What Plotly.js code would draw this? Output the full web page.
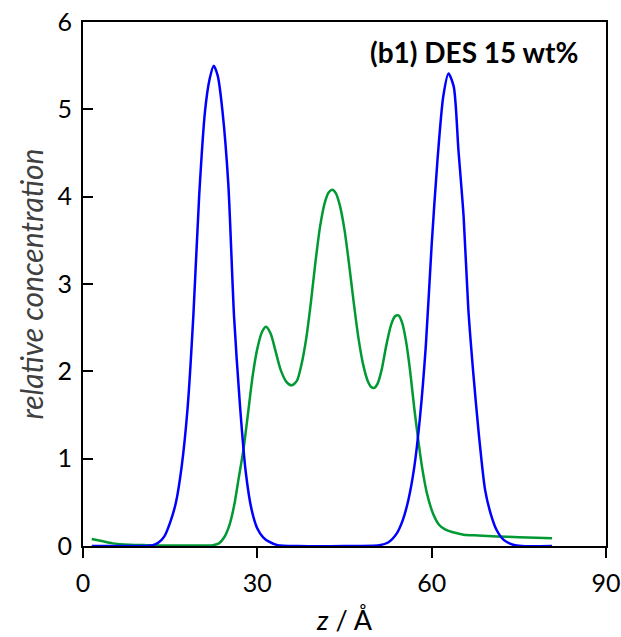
<!DOCTYPE html>
<html>
<head>
<meta charset="utf-8">
<script src="https://cdn.plot.ly/plotly-3.0.1.min.js"></script>
<style>html,body{margin:0;padding:0;background:#fff;}#chart{width:621px;height:637px;}</style>
</head>
<body>
<div id="chart"></div>
<script>
// z positions (Å) and relative concentrations
const blueZ = [1.5, 5, 10, 12, 13, 14, 15, 16, 17, 18, 19, 20, 21, 21.8, 22.5, 23.2, 24, 25, 26, 27, 28, 29, 30, 31, 32, 33.5, 37, 45, 51, 52.5, 54, 55, 56, 57, 58, 59, 60, 61, 62, 62.9, 63.8, 64.6, 65.5, 66.3, 67.2, 68.1, 69.2, 70.2, 71.2, 72.4, 74, 75.5, 80.7];
const blueC = [0, 0, 0, 0.01, 0.04, 0.11, 0.27, 0.50, 0.92, 1.58, 2.65, 4.02, 4.98, 5.35, 5.50, 5.38, 4.98, 4.15, 2.62, 1.62, 0.85, 0.42, 0.20, 0.10, 0.05, 0.01, 0, 0, 0.01, 0.04, 0.145, 0.29, 0.53, 0.90, 1.48, 2.30, 3.45, 4.42, 5.15, 5.41, 5.26, 4.54, 3.77, 2.72, 1.95, 1.29, 0.64, 0.36, 0.18, 0.07, 0.015, 0, 0];
const greenZ = [1.5, 3, 5.1, 8, 10.9, 15, 20, 22.4, 23.4, 24.3, 25.2, 26, 26.8, 27.6, 28.4, 29.2, 30, 30.8, 31.5, 32.3, 33.1, 34, 35, 35.9, 36.8, 37.6, 38.4, 39.2, 40, 40.8, 41.6, 42.3, 42.9, 43.5, 44.2, 45, 45.8, 46.6, 47.4, 48.2, 49, 49.6, 50.1, 50.7, 51.4, 52.2, 53, 53.7, 54.3, 54.9, 55.6, 56.3, 57, 57.7, 58.4, 59.2, 60.3, 61.3, 62.3, 63.5, 65.5, 68, 71.2, 75, 78, 80.7];
const greenC = [0.08, 0.06, 0.03, 0.015, 0.01, 0.005, 0.005, 0.01, 0.03, 0.10, 0.24, 0.46, 0.78, 1.10, 1.52, 1.95, 2.26, 2.45, 2.51, 2.43, 2.24, 2.02, 1.88, 1.84, 1.89, 2.08, 2.37, 2.78, 3.25, 3.66, 3.93, 4.05, 4.08, 4.04, 3.90, 3.62, 3.22, 2.78, 2.38, 2.08, 1.89, 1.82, 1.81, 1.86, 2.02, 2.30, 2.53, 2.63, 2.64, 2.56, 2.34, 2.00, 1.58, 1.21, 0.88, 0.60, 0.36, 0.24, 0.19, 0.16, 0.13, 0.12, 0.11, 0.10, 0.095, 0.09];
const xTicks = [0, 30, 60, 90];
const yTicks = [0, 1, 2, 3, 4, 5, 6];
const panelLabel = '(b1) DES 15 wt%';

const FONT = 'Lato, "Open Sans", sans-serif';

const traces = [
  {x: greenZ, y: greenC, mode: 'lines', line: {color: '#009933', width: 2.5, shape: 'spline', smoothing: 0.7}, hoverinfo: 'skip'},
  {x: blueZ, y: blueC, mode: 'lines', line: {color: '#0000ff', width: 2.5, shape: 'spline', smoothing: 0.7}, hoverinfo: 'skip'}
];

const layout = {
  width: 621, height: 637,
  margin: {l: 83, r: 15, t: 22, b: 91},
  paper_bgcolor: '#fff', plot_bgcolor: '#fff',
  showlegend: false,
  font: {family: FONT, color: '#000'},
  xaxis: {
    range: [0, 90], tickvals: xTicks, ticktext: xTicks.map(String),
    showgrid: false, zeroline: false,
    showline: true, linecolor: '#000', linewidth: 2, mirror: true,
    ticks: 'outside', ticklen: 10, tickwidth: 2, tickcolor: '#000',
    tickfont: {size: 25, family: FONT, color: '#000'},
    ticklabelstandoff: 4,
    layer: 'below traces',
    title: {text: '<i>z</i> / Å', font: {size: 27, family: FONT, color: '#000'}, standoff: 15}
  },
  yaxis: {
    range: [0, 6], tickvals: yTicks, ticktext: yTicks.map(String),
    showgrid: false, zeroline: false,
    showline: true, linecolor: '#000', linewidth: 2, mirror: true,
    ticks: 'inside', ticklen: 10, tickwidth: 2, tickcolor: '#000',
    tickfont: {size: 25, family: FONT, color: '#000'},
    ticklabelstandoff: 4,
    layer: 'below traces',
    title: {text: '<i>relative concentration</i>', font: {size: 30, family: FONT, color: '#404040'}, standoff: 5}
  },
  annotations: [{
    text: '<b>' + panelLabel + '</b>', xref: 'paper', yref: 'paper',
    x: 0.951, y: 0.943, xanchor: 'right', yanchor: 'middle', showarrow: false,
    font: {size: 28, family: FONT, color: '#000'}
  }]
};

Plotly.newPlot('chart', traces, layout, {staticPlot: true, displayModeBar: false});
</script>
</body>
</html>
